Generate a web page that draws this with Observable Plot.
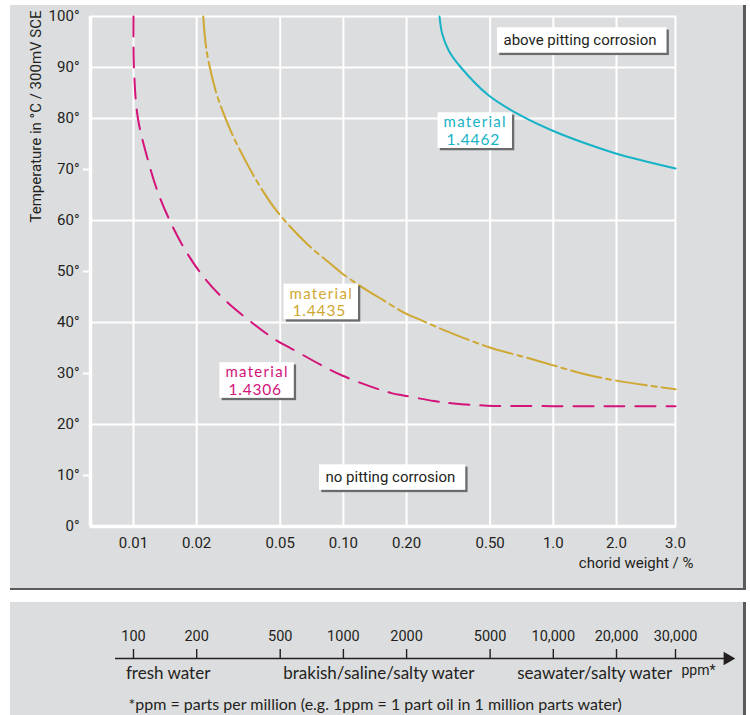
<!DOCTYPE html>
<html><head><meta charset="utf-8">
<script src="https://cdn.jsdelivr.net/npm/d3@7"></script>
<script src="https://cdn.jsdelivr.net/npm/@observablehq/plot@0.6"></script>
<style>
body{margin:0;background:#fff;width:750px;height:715px;position:relative;overflow:hidden;}
#toppanel{position:absolute;left:10px;top:5px;width:733px;height:583px;background:#dcdddf;border-right:3px solid #5a5a5c;border-bottom:2px solid #5a5a5c;}
#bottompanel{position:absolute;left:10px;top:602px;width:733px;height:113px;background:#dcdddf;border-right:3px solid #5a5a5c;}
#chart{position:absolute;left:0;top:0;}
#ppm{position:absolute;left:0;top:602px;}
</style></head><body>
<div id="toppanel"></div><div id="bottompanel"></div>
<div id="chart"></div><div id="ppm"></div>
<script>
// ---- data ----
const xTicks = [0.01, 0.02, 0.05, 0.1, 0.2, 0.5, 1, 2, 3];
const xTickLabels = ["0.01", "0.02", "0.05", "0.10", "0.20", "0.50", "1.0", "2.0", "3.0"];
const yTicks = [0, 10, 20, 30, 40, 50, 60, 70, 80, 90, 100];
const yTickLabels = ["0°", "10°", "20°", "30°", "40°", "50°", "60°", "70°", "80°", "90°", "100°"];
const yGridLines = [20, 40, 60, 80, 90];
const yMinorTicks = [10, 30, 50, 70];
const xTitle = "chorid weight / %";
const yTitle = "Temperature in °C / 300mV SCE";

const materialWord = "material";
const materials = ["1.4306", "1.4435", "1.4462"];
const materialColors = ["#d3137a", "#cfa833", "#16b2c6"];
// [chloride weight %, temperature °C]
const curve1_4306 = [[0.0100,100],[0.01005,90],[0.0105,80],[0.0118,71.4],[0.0131,65.4],[0.0150,59.7],[0.0177,54.1],[0.0215,49.0],[0.0274,44.3],[0.0358,40.3],[0.0475,36.6],[0.057,34.8],[0.0987,29.6],[0.171,26.1],[0.193,25.7],[0.27,24.6],[0.336,24.1],[0.484,23.7],[1.0,23.6],[2.0,23.6],[3.0,23.6]];
const curve1_4435 = [[0.0215,100],[0.0223,93.3],[0.0246,85.5],[0.0269,80.9],[0.0300,76.3],[0.0348,71.1],[0.0403,66.5],[0.0487,61.6],[0.0672,55.4],[0.0868,51.5],[0.098,49.7],[0.121,47.1],[0.156,44.3],[0.193,42.0],[0.233,40.5],[0.29,38.8],[0.49,35.2],[0.78,32.9],[1.0,31.6],[1.4,29.9],[2.0,28.6],[3.0,26.9]];
const curve1_4462 = [[0.287,100],[0.2956,96.6],[0.3178,93.3],[0.3614,90.1],[0.4928,84.5],[0.698,80.6],[1.006,77.5],[1.451,75.0],[2.0,73.1],[3.0,70.2]];

const materialLabelX = [0.0274, 0.0554, 0.300];
const materialLabelY = [28.5, 43.9, 77.5];
const zoneTexts = ["above pitting corrosion", "no pitting corrosion"];
const zoneX = [0.579, 0.0822];
const zoneY = [95.3, 9.6];

const ppmTicks = [100, 200, 500, 1000, 2000, 5000, 10000, 20000, 30000];
const ppmTickLabels = ["100", "200", "500", "1000", "2000", "5000", "10,000", "20,000", "30,000"];
const waterTypes = ["fresh water", "brakish/saline/salty water", "seawater/salty water"];
const waterTypeStart = [92, 517, 6730];
const ppmUnit = "ppm*";
const footnote = "*ppm = parts per million (e.g. 1ppm = 1 part oil in 1 million parts water)";

// ---- styles ----
const grotesk = 'Roboto, "Liberation Sans", sans-serif';
const humanist = 'Lato, "Open Sans", sans-serif';
const ink = "#231f20";

const xScale = {type: "log", domain: [0.00624, 2, 3], range: [90, 616, 675], axis: null};
const ppmScale = {type: "log", domain: [62.4, 20000, 30000], range: [90, 616, 675], axis: null};

const curves = [curve1_4306, curve1_4435, curve1_4462];
const dashes = ["20,11", "31,5,5,5", null];

const mainChart = Plot.plot({
  width: 750, height: 590,
  marginLeft: 90, marginRight: 75, marginTop: 16, marginBottom: 64,
  style: {background: "transparent", fontFamily: grotesk, fontSize: "15px", color: ink, overflow: "visible"},
  x: xScale,
  y: {domain: [0, 100]},
  marks: [
    Plot.gridX(xTicks.slice(0, -1), {stroke: "white", strokeOpacity: 1, strokeWidth: 2}),
    Plot.gridY(yGridLines, {stroke: "white", strokeOpacity: 1, strokeWidth: 2}),
    Plot.frame({stroke: "white", strokeWidth: 2}),
    Plot.ruleY([0], {stroke: "white", strokeWidth: 3.5}),
    Plot.ruleX([xScale.domain[0]], {stroke: "white", strokeWidth: 3.5}),
    Plot.axisY(yMinorTicks, {tickSize: 7, stroke: "white", strokeWidth: 2, tickFormat: () => "", label: null}),
    Plot.text(yTicks, {y: d => d, text: d => yTickLabels[yTicks.indexOf(d)], frameAnchor: "left", textAnchor: "end", dx: -11, fill: ink}),
    Plot.text(xTicks, {x: d => d, text: d => xTickLabels[xTicks.indexOf(d)], frameAnchor: "bottom", dy: 21, fill: ink}),
    Plot.text([xTitle], {text: d => d, frameAnchor: "bottom-right", textAnchor: "end", dx: 18, dy: 41, fill: ink}),
    Plot.text([yTitle], {text: d => d, frameAnchor: "top-left", rotate: -90, textAnchor: "end", dx: -60, dy: -6, fill: ink}),
    ...curves.map((c, i) => Plot.line(c, {
      x: d => d[0], y: d => d[1], stroke: materialColors[i], strokeWidth: 2,
      strokeDasharray: dashes[i], curve: "catmull-rom"
    })),
    Plot.text(zoneTexts, {
      x: (d, i) => zoneX[i], y: (d, i) => zoneY[i], text: d => d,
      textAnchor: "start", fontSize: 15, fill: ink
    }),
    Plot.text(materials, {
      x: (d, i) => materialLabelX[i], y: (d, i) => materialLabelY[i],
      text: () => materialWord, fill: (d, i) => materialColors[i], dy: -8.75,
      textAnchor: "start", fontSize: 15, fontFamily: humanist
    }),
    Plot.text(materials, {
      x: (d, i) => materialLabelX[i], y: (d, i) => materialLabelY[i],
      text: d => d, fill: (d, i) => materialColors[i], dy: 8.75, dx: 3,
      textAnchor: "start", fontSize: 15.5, fontFamily: humanist
    })
  ]
});
document.getElementById("chart").append(mainChart);

const ppmChart = Plot.plot({
  width: 750, height: 113,
  marginLeft: 115, marginRight: 17, marginTop: 56, marginBottom: 0,
  style: {background: "transparent", fontFamily: grotesk, fontSize: "14.5px", color: ink, overflow: "visible"},
  x: ppmScale,
  y: {domain: [0, 1], axis: null},
  marks: [
    Plot.axisX(ppmTicks, {anchor: "top", tickSize: 10, tickPadding: 0, strokeWidth: 1.4, stroke: ink,
      tickFormat: () => "", label: null}),
    Plot.text(ppmTicks, {x: d => d, text: d => ppmTickLabels[ppmTicks.indexOf(d)], frameAnchor: "top", dy: -28, fill: ink}),
    Plot.ruleY([1], {stroke: ink, strokeWidth: 1.5}),
    Plot.dot([1], {y: d => d, frameAnchor: "right", symbol: "triangle", rotate: 90, r: 5, dx: -6, fill: ink, stroke: null}),
    Plot.text(waterTypes, {x: (d, i) => waterTypeStart[i], y: () => 1, text: d => d, textAnchor: "start",
      dy: 15, fontFamily: humanist, fontSize: 17, fill: ink}),
    Plot.text([ppmUnit], {text: d => d, frameAnchor: "right", y: () => 1, textAnchor: "end", dx: -18, dy: 12, fontSize: 14, fill: ink}),
    Plot.text([footnote], {text: d => d, frameAnchor: "bottom-left", textAnchor: "start", dx: 13, dy: -6,
      fontFamily: humanist, fontSize: 16, fill: ink})
  ]
});
document.getElementById("ppm").append(ppmChart);

// white annotation boxes with a dark drop shadow, sized to the rendered text
const NS = "http://www.w3.org/2000/svg";
const svgBox = mainChart.getBoundingClientRect();
function boxBehind(texts, pad) {
  let x0 = Infinity, y0 = Infinity, x1 = -Infinity, y1 = -Infinity;
  texts.forEach(t => {
    const b = t.getBoundingClientRect();
    x0 = Math.min(x0, b.left - svgBox.left); y0 = Math.min(y0, b.top - svgBox.top);
    x1 = Math.max(x1, b.right - svgBox.left); y1 = Math.max(y1, b.bottom - svgBox.top);
  });
  const g = document.createElementNS(NS, "g");
  const mk = (off, fill) => {
    const r = document.createElementNS(NS, "rect");
    r.setAttribute("x", x0 - pad[3] + off);
    r.setAttribute("y", y0 - pad[0] + off);
    r.setAttribute("width", x1 - x0 + pad[1] + pad[3]);
    r.setAttribute("height", y1 - y0 + pad[0] + pad[2]);
    r.setAttribute("fill", fill);
    g.append(r);
  };
  mk(2.3, "#6a6b6d");
  mk(0, "white");
  const firstGroup = texts[0].closest("g");
  firstGroup.parentNode.insertBefore(g, firstGroup);
}
const allTexts = Array.from(mainChart.querySelectorAll("text"));
allTexts.filter(t => zoneTexts.includes(t.textContent)).forEach(t => boxBehind([t], [4, 10, 3.5, 6.5]));
const wordTexts = allTexts.filter(t => t.textContent === materialWord);
const numberTexts = allTexts.filter(t => materials.includes(t.textContent));
wordTexts.forEach(t => (t.style.letterSpacing = "1.3px"));
numberTexts.forEach(t => (t.style.letterSpacing = "0.8px"));
wordTexts.forEach((t, i) => boxBehind([t, numberTexts[i]], [0, 5, 0, 6]));
</script></body></html>
